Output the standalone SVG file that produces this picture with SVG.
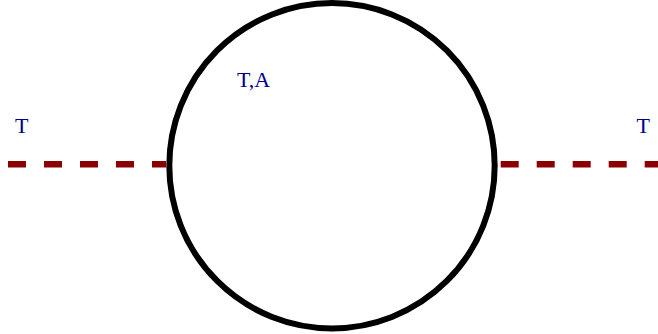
<svg xmlns="http://www.w3.org/2000/svg" width="658" height="334" viewBox="0 0 658 334">
<style>
.lbl{font-family:"Liberation Serif","Times New Roman",serif;font-size:22px;fill:#00008b;text-anchor:middle}
.prop{stroke:#8b0000;stroke-width:6.5;stroke-dasharray:18 18;fill:none}
</style>
<rect width="658" height="334" fill="#fff"/>
<g id="connectors">
<line class="prop" x1="8" y1="164.3" x2="166" y2="164.3"/>
<line class="prop" x1="500.7" y1="164.3" x2="658" y2="164.3"/>
</g>
<g id="loop">
<circle cx="332" cy="165.7" r="162.7" fill="none" stroke="#000" stroke-width="6"/>
<text class="lbl" x="253.5" y="86.7">T,A</text>
</g>
<g id="left-label"><text class="lbl" x="21.7" y="133.3">T</text></g>
<g id="right-label"><text class="lbl" x="643.3" y="133.3">T</text></g>
</svg>
